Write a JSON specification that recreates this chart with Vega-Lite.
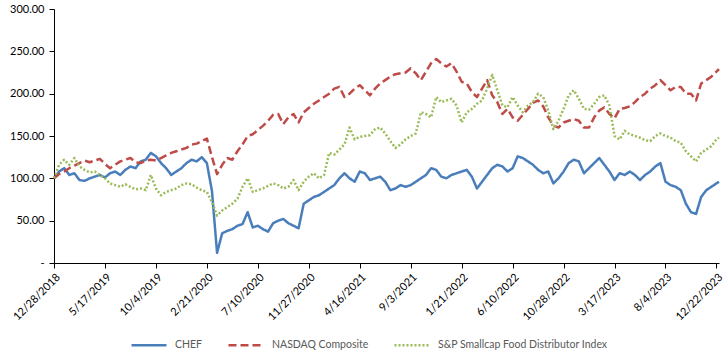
{
"$schema": "https://vega.github.io/schema/vega-lite/v6.json",
"width": 665, "height": 254,
"autosize": {"type": "none"},
"padding": {"left": 54, "top": 9, "right": 9, "bottom": 92},
"background": "white",
"config": {"view": {"stroke": null}, "font": "Lato"},
"data": {"values": [
{"date":"2018-12-28","CHEF":100,"NASDAQ Composite":100,"S&P Smallcap Food Distributor Index":100},
{"date":"2019-01-11","CHEF":108,"NASDAQ Composite":105,"S&P Smallcap Food Distributor Index":116},
{"date":"2019-01-25","CHEF":112,"NASDAQ Composite":108,"S&P Smallcap Food Distributor Index":122},
{"date":"2019-02-08","CHEF":104,"NASDAQ Composite":112,"S&P Smallcap Food Distributor Index":116},
{"date":"2019-02-22","CHEF":106,"NASDAQ Composite":115,"S&P Smallcap Food Distributor Index":124},
{"date":"2019-03-08","CHEF":98,"NASDAQ Composite":118,"S&P Smallcap Food Distributor Index":114},
{"date":"2019-03-22","CHEF":97,"NASDAQ Composite":121,"S&P Smallcap Food Distributor Index":110},
{"date":"2019-04-05","CHEF":100,"NASDAQ Composite":119,"S&P Smallcap Food Distributor Index":107},
{"date":"2019-04-19","CHEF":102,"NASDAQ Composite":121,"S&P Smallcap Food Distributor Index":108},
{"date":"2019-05-03","CHEF":104,"NASDAQ Composite":123,"S&P Smallcap Food Distributor Index":104},
{"date":"2019-05-17","CHEF":101,"NASDAQ Composite":117,"S&P Smallcap Food Distributor Index":100},
{"date":"2019-05-31","CHEF":106,"NASDAQ Composite":112,"S&P Smallcap Food Distributor Index":94},
{"date":"2019-06-14","CHEF":108,"NASDAQ Composite":116,"S&P Smallcap Food Distributor Index":92},
{"date":"2019-06-28","CHEF":104,"NASDAQ Composite":120,"S&P Smallcap Food Distributor Index":90},
{"date":"2019-07-12","CHEF":110,"NASDAQ Composite":122,"S&P Smallcap Food Distributor Index":93},
{"date":"2019-07-26","CHEF":114,"NASDAQ Composite":124,"S&P Smallcap Food Distributor Index":90},
{"date":"2019-08-09","CHEF":112,"NASDAQ Composite":119,"S&P Smallcap Food Distributor Index":87},
{"date":"2019-08-23","CHEF":120,"NASDAQ Composite":118,"S&P Smallcap Food Distributor Index":88},
{"date":"2019-09-06","CHEF":122,"NASDAQ Composite":121,"S&P Smallcap Food Distributor Index":86},
{"date":"2019-09-20","CHEF":130,"NASDAQ Composite":122,"S&P Smallcap Food Distributor Index":104},
{"date":"2019-10-04","CHEF":126,"NASDAQ Composite":121,"S&P Smallcap Food Distributor Index":88},
{"date":"2019-10-18","CHEF":118,"NASDAQ Composite":124,"S&P Smallcap Food Distributor Index":80},
{"date":"2019-11-01","CHEF":112,"NASDAQ Composite":127,"S&P Smallcap Food Distributor Index":84},
{"date":"2019-11-15","CHEF":104,"NASDAQ Composite":130,"S&P Smallcap Food Distributor Index":86},
{"date":"2019-11-29","CHEF":108,"NASDAQ Composite":132,"S&P Smallcap Food Distributor Index":88},
{"date":"2019-12-13","CHEF":112,"NASDAQ Composite":134,"S&P Smallcap Food Distributor Index":92},
{"date":"2019-12-27","CHEF":118,"NASDAQ Composite":136,"S&P Smallcap Food Distributor Index":94},
{"date":"2020-01-10","CHEF":122,"NASDAQ Composite":140,"S&P Smallcap Food Distributor Index":93},
{"date":"2020-01-24","CHEF":120,"NASDAQ Composite":141,"S&P Smallcap Food Distributor Index":89},
{"date":"2020-02-07","CHEF":125,"NASDAQ Composite":144,"S&P Smallcap Food Distributor Index":86},
{"date":"2020-02-21","CHEF":118,"NASDAQ Composite":147,"S&P Smallcap Food Distributor Index":84},
{"date":"2020-03-06","CHEF":85,"NASDAQ Composite":125,"S&P Smallcap Food Distributor Index":72},
{"date":"2020-03-20","CHEF":12,"NASDAQ Composite":105,"S&P Smallcap Food Distributor Index":56},
{"date":"2020-04-03","CHEF":35,"NASDAQ Composite":116,"S&P Smallcap Food Distributor Index":62},
{"date":"2020-04-17","CHEF":38,"NASDAQ Composite":124,"S&P Smallcap Food Distributor Index":66},
{"date":"2020-05-01","CHEF":40,"NASDAQ Composite":122,"S&P Smallcap Food Distributor Index":70},
{"date":"2020-05-15","CHEF":44,"NASDAQ Composite":132,"S&P Smallcap Food Distributor Index":76},
{"date":"2020-05-29","CHEF":46,"NASDAQ Composite":140,"S&P Smallcap Food Distributor Index":90},
{"date":"2020-06-12","CHEF":60,"NASDAQ Composite":150,"S&P Smallcap Food Distributor Index":100},
{"date":"2020-06-26","CHEF":42,"NASDAQ Composite":152,"S&P Smallcap Food Distributor Index":84},
{"date":"2020-07-10","CHEF":44,"NASDAQ Composite":157,"S&P Smallcap Food Distributor Index":86},
{"date":"2020-07-24","CHEF":40,"NASDAQ Composite":162,"S&P Smallcap Food Distributor Index":88},
{"date":"2020-08-07","CHEF":37,"NASDAQ Composite":168,"S&P Smallcap Food Distributor Index":91},
{"date":"2020-08-21","CHEF":47,"NASDAQ Composite":175,"S&P Smallcap Food Distributor Index":94},
{"date":"2020-09-04","CHEF":50,"NASDAQ Composite":176,"S&P Smallcap Food Distributor Index":92},
{"date":"2020-09-18","CHEF":52,"NASDAQ Composite":164,"S&P Smallcap Food Distributor Index":88},
{"date":"2020-10-02","CHEF":47,"NASDAQ Composite":172,"S&P Smallcap Food Distributor Index":90},
{"date":"2020-10-16","CHEF":44,"NASDAQ Composite":176,"S&P Smallcap Food Distributor Index":98},
{"date":"2020-10-30","CHEF":41,"NASDAQ Composite":166,"S&P Smallcap Food Distributor Index":86},
{"date":"2020-11-13","CHEF":70,"NASDAQ Composite":178,"S&P Smallcap Food Distributor Index":96},
{"date":"2020-11-27","CHEF":74,"NASDAQ Composite":183,"S&P Smallcap Food Distributor Index":102},
{"date":"2020-12-11","CHEF":78,"NASDAQ Composite":188,"S&P Smallcap Food Distributor Index":106},
{"date":"2020-12-25","CHEF":80,"NASDAQ Composite":192,"S&P Smallcap Food Distributor Index":100},
{"date":"2021-01-08","CHEF":84,"NASDAQ Composite":196,"S&P Smallcap Food Distributor Index":104},
{"date":"2021-01-22","CHEF":88,"NASDAQ Composite":200,"S&P Smallcap Food Distributor Index":130},
{"date":"2021-02-05","CHEF":92,"NASDAQ Composite":206,"S&P Smallcap Food Distributor Index":128},
{"date":"2021-02-19","CHEF":100,"NASDAQ Composite":208,"S&P Smallcap Food Distributor Index":134},
{"date":"2021-03-05","CHEF":106,"NASDAQ Composite":196,"S&P Smallcap Food Distributor Index":140},
{"date":"2021-03-19","CHEF":100,"NASDAQ Composite":200,"S&P Smallcap Food Distributor Index":160},
{"date":"2021-04-02","CHEF":96,"NASDAQ Composite":206,"S&P Smallcap Food Distributor Index":146},
{"date":"2021-04-16","CHEF":108,"NASDAQ Composite":210,"S&P Smallcap Food Distributor Index":149},
{"date":"2021-04-30","CHEF":106,"NASDAQ Composite":204,"S&P Smallcap Food Distributor Index":150},
{"date":"2021-05-14","CHEF":98,"NASDAQ Composite":198,"S&P Smallcap Food Distributor Index":151},
{"date":"2021-05-28","CHEF":100,"NASDAQ Composite":206,"S&P Smallcap Food Distributor Index":158},
{"date":"2021-06-11","CHEF":102,"NASDAQ Composite":212,"S&P Smallcap Food Distributor Index":160},
{"date":"2021-06-25","CHEF":96,"NASDAQ Composite":216,"S&P Smallcap Food Distributor Index":153},
{"date":"2021-07-09","CHEF":86,"NASDAQ Composite":220,"S&P Smallcap Food Distributor Index":144},
{"date":"2021-07-23","CHEF":88,"NASDAQ Composite":223,"S&P Smallcap Food Distributor Index":136},
{"date":"2021-08-06","CHEF":92,"NASDAQ Composite":224,"S&P Smallcap Food Distributor Index":140},
{"date":"2021-08-20","CHEF":90,"NASDAQ Composite":225,"S&P Smallcap Food Distributor Index":146},
{"date":"2021-09-03","CHEF":92,"NASDAQ Composite":230,"S&P Smallcap Food Distributor Index":150},
{"date":"2021-09-17","CHEF":96,"NASDAQ Composite":224,"S&P Smallcap Food Distributor Index":153},
{"date":"2021-10-01","CHEF":100,"NASDAQ Composite":216,"S&P Smallcap Food Distributor Index":178},
{"date":"2021-10-15","CHEF":104,"NASDAQ Composite":226,"S&P Smallcap Food Distributor Index":176},
{"date":"2021-10-29","CHEF":112,"NASDAQ Composite":236,"S&P Smallcap Food Distributor Index":172},
{"date":"2021-11-12","CHEF":110,"NASDAQ Composite":241,"S&P Smallcap Food Distributor Index":196},
{"date":"2021-11-26","CHEF":102,"NASDAQ Composite":236,"S&P Smallcap Food Distributor Index":190},
{"date":"2021-12-10","CHEF":100,"NASDAQ Composite":232,"S&P Smallcap Food Distributor Index":192},
{"date":"2021-12-24","CHEF":104,"NASDAQ Composite":236,"S&P Smallcap Food Distributor Index":194},
{"date":"2022-01-07","CHEF":106,"NASDAQ Composite":226,"S&P Smallcap Food Distributor Index":186},
{"date":"2022-01-21","CHEF":108,"NASDAQ Composite":214,"S&P Smallcap Food Distributor Index":166},
{"date":"2022-02-04","CHEF":110,"NASDAQ Composite":212,"S&P Smallcap Food Distributor Index":178},
{"date":"2022-02-18","CHEF":102,"NASDAQ Composite":202,"S&P Smallcap Food Distributor Index":182},
{"date":"2022-03-04","CHEF":88,"NASDAQ Composite":196,"S&P Smallcap Food Distributor Index":188},
{"date":"2022-03-18","CHEF":96,"NASDAQ Composite":206,"S&P Smallcap Food Distributor Index":192},
{"date":"2022-04-01","CHEF":104,"NASDAQ Composite":216,"S&P Smallcap Food Distributor Index":206},
{"date":"2022-04-15","CHEF":112,"NASDAQ Composite":198,"S&P Smallcap Food Distributor Index":222},
{"date":"2022-04-29","CHEF":116,"NASDAQ Composite":190,"S&P Smallcap Food Distributor Index":204},
{"date":"2022-05-13","CHEF":114,"NASDAQ Composite":176,"S&P Smallcap Food Distributor Index":186},
{"date":"2022-05-27","CHEF":108,"NASDAQ Composite":182,"S&P Smallcap Food Distributor Index":184},
{"date":"2022-06-10","CHEF":112,"NASDAQ Composite":172,"S&P Smallcap Food Distributor Index":196},
{"date":"2022-06-24","CHEF":126,"NASDAQ Composite":168,"S&P Smallcap Food Distributor Index":186},
{"date":"2022-07-08","CHEF":124,"NASDAQ Composite":175,"S&P Smallcap Food Distributor Index":178},
{"date":"2022-07-22","CHEF":120,"NASDAQ Composite":182,"S&P Smallcap Food Distributor Index":186},
{"date":"2022-08-05","CHEF":116,"NASDAQ Composite":189,"S&P Smallcap Food Distributor Index":190},
{"date":"2022-08-19","CHEF":110,"NASDAQ Composite":192,"S&P Smallcap Food Distributor Index":200},
{"date":"2022-09-02","CHEF":106,"NASDAQ Composite":185,"S&P Smallcap Food Distributor Index":196},
{"date":"2022-09-16","CHEF":108,"NASDAQ Composite":172,"S&P Smallcap Food Distributor Index":180},
{"date":"2022-09-30","CHEF":94,"NASDAQ Composite":162,"S&P Smallcap Food Distributor Index":158},
{"date":"2022-10-14","CHEF":100,"NASDAQ Composite":160,"S&P Smallcap Food Distributor Index":168},
{"date":"2022-10-28","CHEF":108,"NASDAQ Composite":166,"S&P Smallcap Food Distributor Index":182},
{"date":"2022-11-11","CHEF":118,"NASDAQ Composite":168,"S&P Smallcap Food Distributor Index":198},
{"date":"2022-11-25","CHEF":122,"NASDAQ Composite":170,"S&P Smallcap Food Distributor Index":204},
{"date":"2022-12-09","CHEF":120,"NASDAQ Composite":168,"S&P Smallcap Food Distributor Index":194},
{"date":"2022-12-23","CHEF":106,"NASDAQ Composite":160,"S&P Smallcap Food Distributor Index":182},
{"date":"2023-01-06","CHEF":112,"NASDAQ Composite":160,"S&P Smallcap Food Distributor Index":181},
{"date":"2023-01-20","CHEF":118,"NASDAQ Composite":172,"S&P Smallcap Food Distributor Index":188},
{"date":"2023-02-03","CHEF":124,"NASDAQ Composite":180,"S&P Smallcap Food Distributor Index":196},
{"date":"2023-02-17","CHEF":116,"NASDAQ Composite":184,"S&P Smallcap Food Distributor Index":198},
{"date":"2023-03-03","CHEF":108,"NASDAQ Composite":176,"S&P Smallcap Food Distributor Index":186},
{"date":"2023-03-17","CHEF":98,"NASDAQ Composite":171,"S&P Smallcap Food Distributor Index":150},
{"date":"2023-03-31","CHEF":106,"NASDAQ Composite":182,"S&P Smallcap Food Distributor Index":146},
{"date":"2023-04-14","CHEF":104,"NASDAQ Composite":183,"S&P Smallcap Food Distributor Index":156},
{"date":"2023-04-28","CHEF":108,"NASDAQ Composite":185,"S&P Smallcap Food Distributor Index":152},
{"date":"2023-05-12","CHEF":104,"NASDAQ Composite":190,"S&P Smallcap Food Distributor Index":150},
{"date":"2023-05-26","CHEF":98,"NASDAQ Composite":196,"S&P Smallcap Food Distributor Index":148},
{"date":"2023-06-09","CHEF":104,"NASDAQ Composite":200,"S&P Smallcap Food Distributor Index":145},
{"date":"2023-06-23","CHEF":108,"NASDAQ Composite":206,"S&P Smallcap Food Distributor Index":144},
{"date":"2023-07-07","CHEF":114,"NASDAQ Composite":210,"S&P Smallcap Food Distributor Index":150},
{"date":"2023-07-21","CHEF":118,"NASDAQ Composite":216,"S&P Smallcap Food Distributor Index":153},
{"date":"2023-08-04","CHEF":96,"NASDAQ Composite":210,"S&P Smallcap Food Distributor Index":150},
{"date":"2023-08-18","CHEF":92,"NASDAQ Composite":204,"S&P Smallcap Food Distributor Index":148},
{"date":"2023-09-01","CHEF":90,"NASDAQ Composite":208,"S&P Smallcap Food Distributor Index":144},
{"date":"2023-09-15","CHEF":86,"NASDAQ Composite":208,"S&P Smallcap Food Distributor Index":142},
{"date":"2023-09-29","CHEF":70,"NASDAQ Composite":200,"S&P Smallcap Food Distributor Index":132},
{"date":"2023-10-13","CHEF":60,"NASDAQ Composite":200,"S&P Smallcap Food Distributor Index":126},
{"date":"2023-10-27","CHEF":58,"NASDAQ Composite":192,"S&P Smallcap Food Distributor Index":120},
{"date":"2023-11-10","CHEF":78,"NASDAQ Composite":212,"S&P Smallcap Food Distributor Index":130},
{"date":"2023-11-24","CHEF":86,"NASDAQ Composite":216,"S&P Smallcap Food Distributor Index":134},
{"date":"2023-12-08","CHEF":90,"NASDAQ Composite":220,"S&P Smallcap Food Distributor Index":138},
{"date":"2023-12-22","CHEF":94,"NASDAQ Composite":226,"S&P Smallcap Food Distributor Index":146},
{"date":"2023-12-29","CHEF":96,"NASDAQ Composite":229,"S&P Smallcap Food Distributor Index":148}
]},
"transform": [{"fold": ["CHEF", "NASDAQ Composite", "S&P Smallcap Food Distributor Index"], "as": ["series", "value"]}],
"mark": {"type": "line", "strokeJoin": "round"},
"encoding": {
  "x": {"field": "date", "type": "temporal",
    "scale": {"type": "utc", "domain": [{"year": 2018, "month": 12, "date": 28, "utc": true}, {"year": 2023, "month": 12, "date": 29, "utc": true}]},
    "axis": {"title": null, "grid": false, "format": "%-m/%-d/%Y", "labelAngle": -45, "labelFontSize": 11, "labelColor": "#000", "domainColor": "#000", "tickColor": "#000", "tickSize": 5, "labelPadding": 3, "labelOverlap": false, "labelFlush": false,
      "values": [
        {"year": 2018, "month": 12, "date": 28, "utc": true},
        {"year": 2019, "month": 5, "date": 17, "utc": true},
        {"year": 2019, "month": 10, "date": 4, "utc": true},
        {"year": 2020, "month": 2, "date": 21, "utc": true},
        {"year": 2020, "month": 7, "date": 10, "utc": true},
        {"year": 2020, "month": 11, "date": 27, "utc": true},
        {"year": 2021, "month": 4, "date": 16, "utc": true},
        {"year": 2021, "month": 9, "date": 3, "utc": true},
        {"year": 2022, "month": 1, "date": 21, "utc": true},
        {"year": 2022, "month": 6, "date": 10, "utc": true},
        {"year": 2022, "month": 10, "date": 28, "utc": true},
        {"year": 2023, "month": 3, "date": 17, "utc": true},
        {"year": 2023, "month": 8, "date": 4, "utc": true},
        {"year": 2023, "month": 12, "date": 22, "utc": true}
      ]}},
  "y": {"field": "value", "type": "quantitative",
    "scale": {"domain": [0, 300], "nice": false, "zero": true},
    "axis": {"title": null, "grid": false, "values": [0, 50, 100, 150, 200, 250, 300], "labelExpr": "datum.value == 0 ? '-' : format(datum.value, '.2f')", "labelFontSize": 11, "labelColor": "#000", "domainColor": "#000", "tickColor": "#000", "tickSize": 5, "labelPadding": 5}},
  "color": {"field": "series", "type": "nominal",
    "scale": {"domain": ["CHEF", "NASDAQ Composite", "S&P Smallcap Food Distributor Index"], "range": ["#4a7ebb", "#be4b48", "#9bbb59"]},
    "legend": {"title": null, "orient": "none", "legendX": 76, "legendY": 317, "direction": "horizontal", "symbolType": "stroke", "symbolSize": 1225, "symbolStrokeWidth": 2.5, "labelFontSize": 10.5, "labelColor": "#595959", "labelOffset": 7, "columnPadding": 20, "labelLimit": 400}},
  "strokeDash": {"field": "series", "type": "nominal",
    "scale": {"domain": ["CHEF", "NASDAQ Composite", "S&P Smallcap Food Distributor Index"], "range": [[1, 0], [8, 4], [2, 2]]},
    "legend": {"title": null, "orient": "none", "legendX": 76, "legendY": 317, "direction": "horizontal", "symbolType": "stroke", "symbolSize": 1225, "symbolStrokeWidth": 2.5, "labelFontSize": 10.5, "labelColor": "#595959", "labelOffset": 7, "columnPadding": 20, "labelLimit": 400}},
  "strokeWidth": {"field": "series", "type": "nominal",
    "scale": {"domain": ["CHEF", "NASDAQ Composite", "S&P Smallcap Food Distributor Index"], "range": [2.5, 2.5, 2]}, "legend": null}
}
}
